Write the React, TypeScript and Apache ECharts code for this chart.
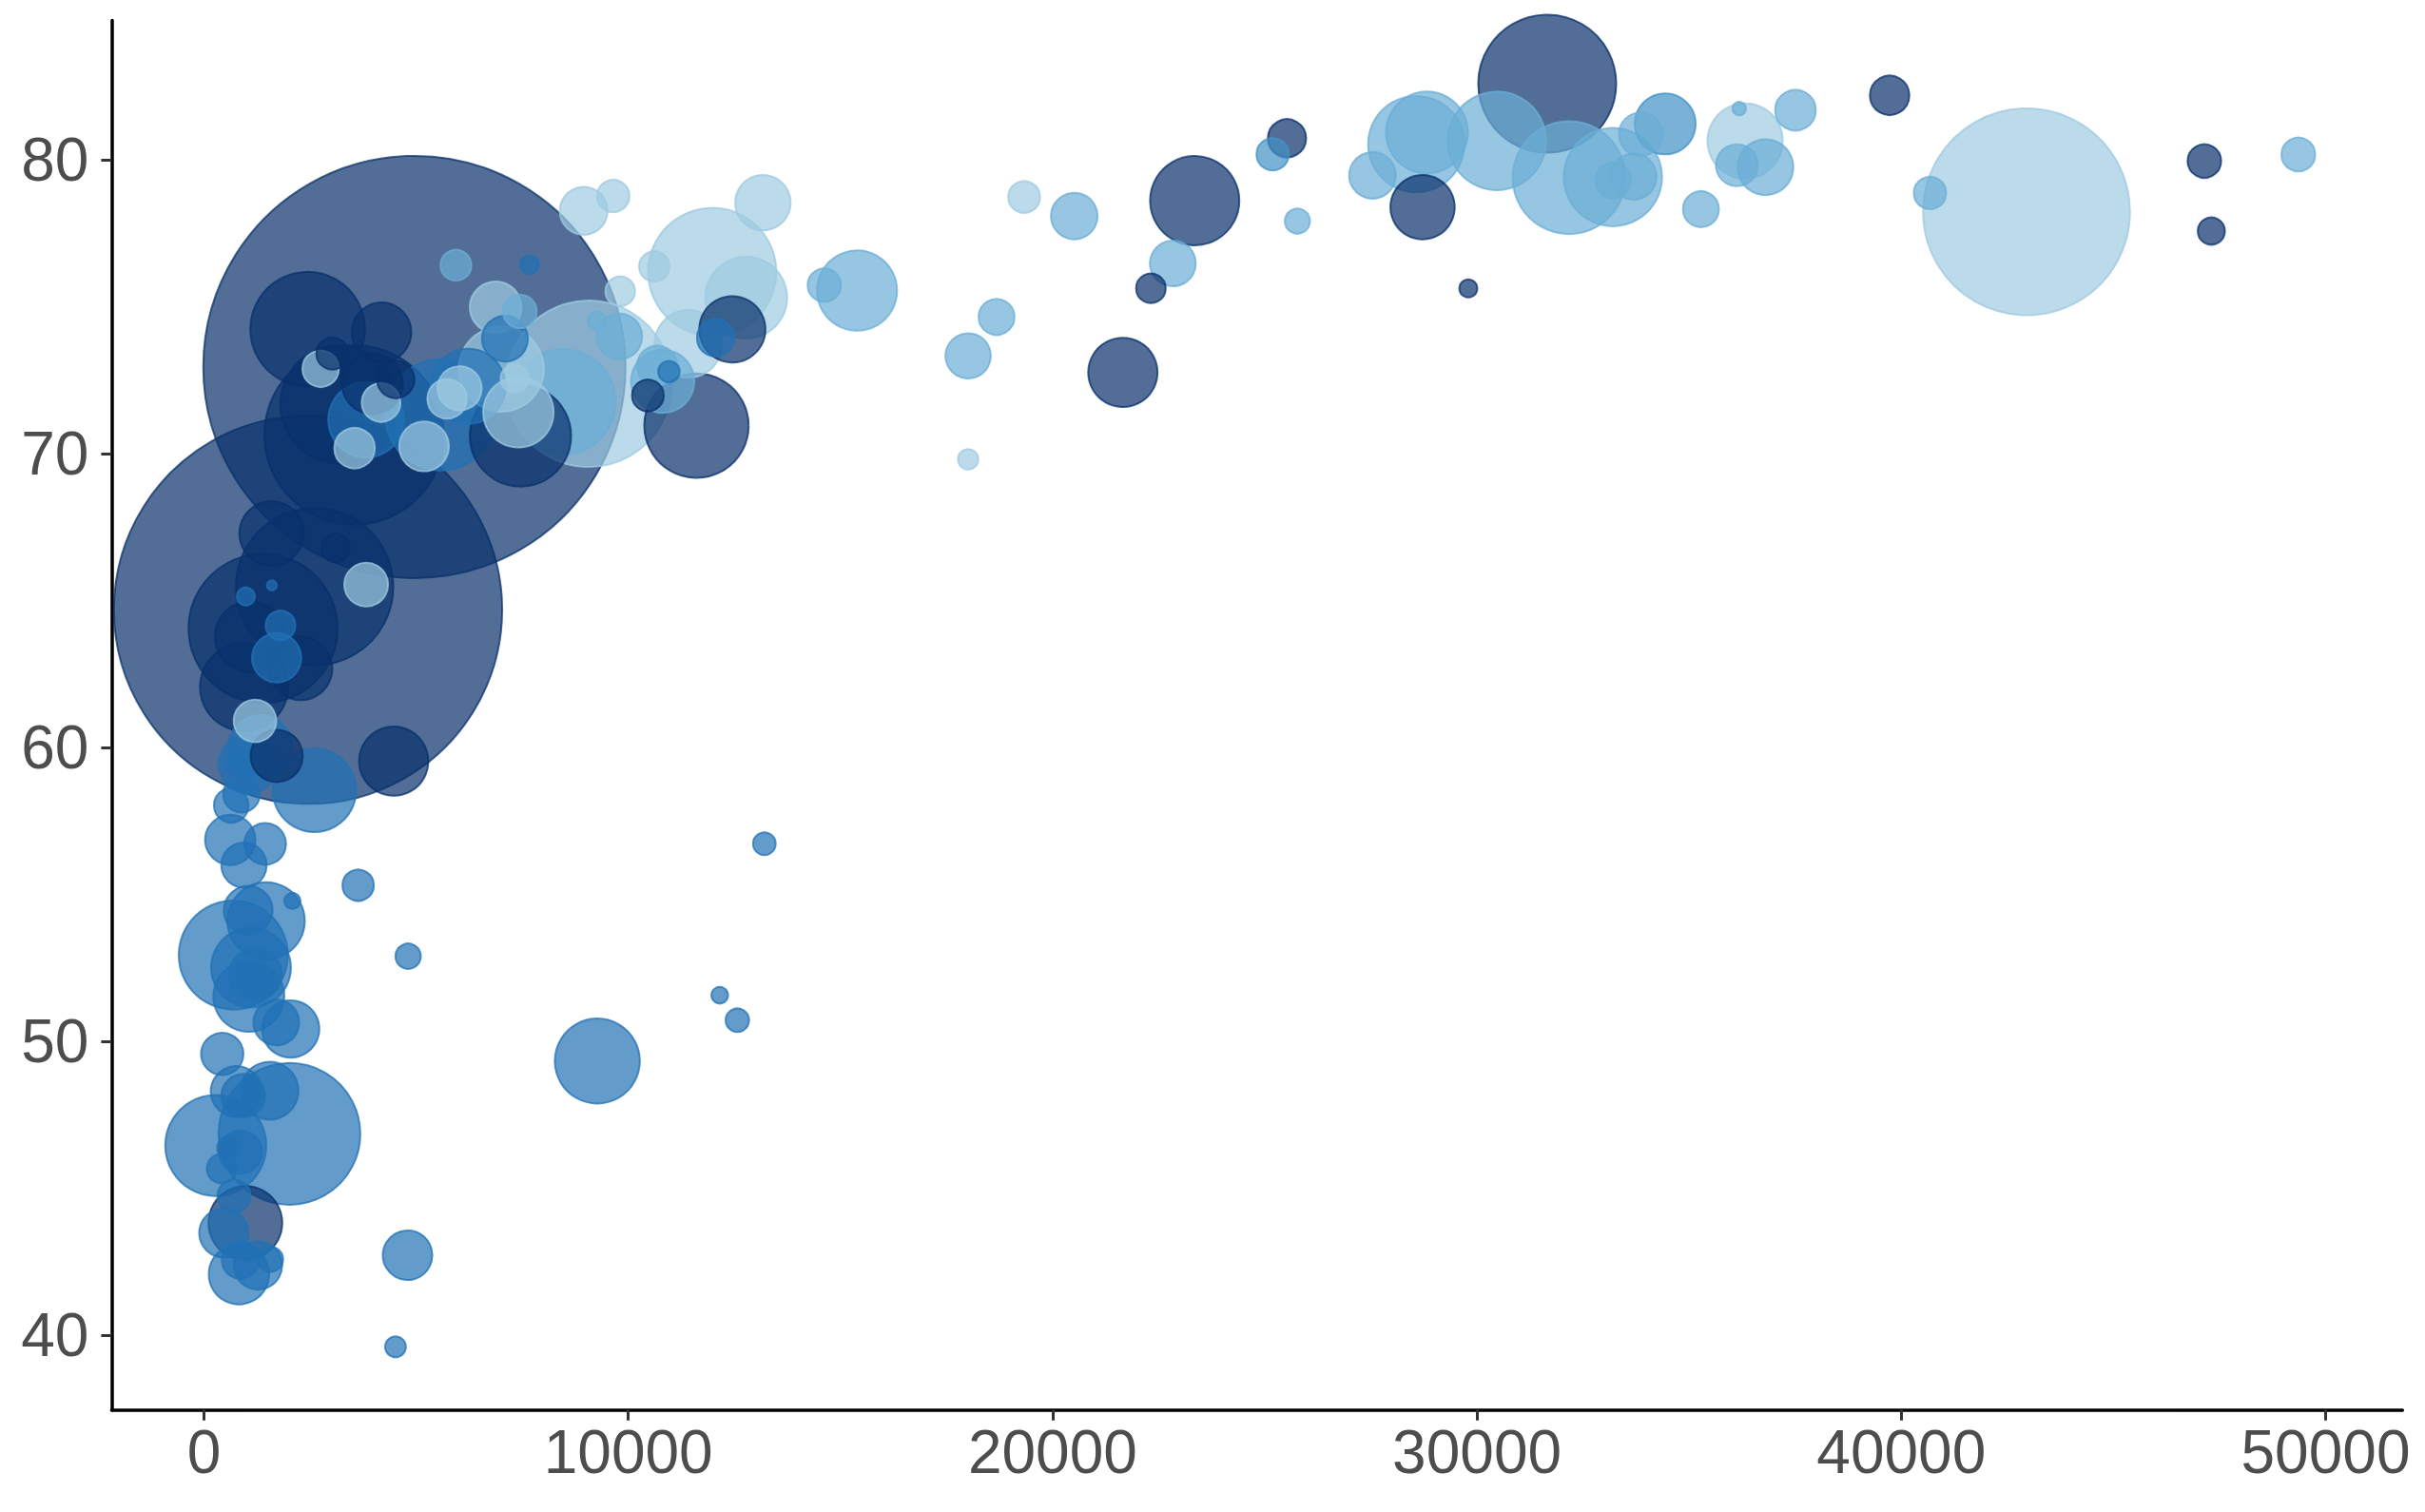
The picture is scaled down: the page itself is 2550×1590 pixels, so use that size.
import React, { useEffect, useRef } from "react";
import * as echarts from "echarts";

const countries = ["Afghanistan","Albania","Algeria","Angola","Argentina","Australia","Austria","Bahrain","Bangladesh","Belgium","Benin","Bolivia","Bosnia and Herzegovina","Botswana","Brazil","Bulgaria","Burkina Faso","Burundi","Cambodia","Cameroon","Canada","Central African Republic","Chad","Chile","China","Colombia","Comoros","Congo, Dem. Rep.","Congo, Rep.","Costa Rica","Cote d'Ivoire","Croatia","Cuba","Czech Republic","Denmark","Djibouti","Dominican Republic","Ecuador","Egypt","El Salvador","Equatorial Guinea","Eritrea","Ethiopia","Finland","France","Gabon","Gambia","Germany","Ghana","Greece","Guatemala","Guinea","Guinea-Bissau","Haiti","Honduras","Hong Kong, China","Hungary","Iceland","India","Indonesia","Iran","Iraq","Ireland","Israel","Italy","Jamaica","Japan","Jordan","Kenya","Korea, Dem. Rep.","Korea, Rep.","Kuwait","Lebanon","Lesotho","Liberia","Libya","Madagascar","Malawi","Malaysia","Mali","Mauritania","Mauritius","Mexico","Mongolia","Montenegro","Morocco","Mozambique","Myanmar","Namibia","Nepal","Netherlands","New Zealand","Nicaragua","Niger","Nigeria","Norway","Oman","Pakistan","Panama","Paraguay","Peru","Philippines","Poland","Portugal","Puerto Rico","Reunion","Romania","Rwanda","Sao Tome and Principe","Saudi Arabia","Senegal","Serbia","Sierra Leone","Singapore","Slovak Republic","Slovenia","Somalia","South Africa","Spain","Sri Lanka","Sudan","Swaziland","Sweden","Switzerland","Syria","Taiwan","Tanzania","Thailand","Togo","Trinidad and Tobago","Tunisia","Turkey","Uganda","United Kingdom","United States","Uruguay","Venezuela","Vietnam","West Bank and Gaza","Yemen, Rep.","Zambia","Zimbabwe"];

const continents = ["Asia","Europe","Africa","Africa","Americas","Oceania","Europe","Asia","Asia","Europe","Africa","Americas","Europe","Africa","Americas","Europe","Africa","Africa","Asia","Africa","Americas","Africa","Africa","Americas","Asia","Americas","Africa","Africa","Africa","Americas","Africa","Europe","Americas","Europe","Europe","Africa","Americas","Americas","Africa","Americas","Africa","Africa","Africa","Europe","Europe","Africa","Africa","Europe","Africa","Europe","Americas","Africa","Africa","Americas","Americas","Asia","Europe","Europe","Asia","Asia","Asia","Asia","Europe","Asia","Europe","Americas","Asia","Asia","Africa","Asia","Asia","Asia","Asia","Africa","Africa","Africa","Africa","Africa","Asia","Africa","Africa","Africa","Americas","Asia","Europe","Africa","Africa","Asia","Africa","Asia","Europe","Oceania","Americas","Africa","Africa","Europe","Asia","Asia","Americas","Americas","Americas","Asia","Europe","Europe","Americas","Africa","Europe","Africa","Africa","Asia","Africa","Europe","Africa","Asia","Europe","Europe","Africa","Africa","Europe","Asia","Africa","Africa","Europe","Europe","Asia","Asia","Africa","Asia","Africa","Americas","Africa","Europe","Africa","Europe","Americas","Americas","Americas","Asia","Asia","Asia","Africa","Africa"];

const lifeExp = [43.828,76.423,72.301,42.731,75.32,81.235,79.829,75.635,64.062,79.441,56.728,65.554,74.852,50.728,72.39,73.005,52.295,49.58,59.723,50.43,80.653,44.741,50.651,78.553,72.961,72.889,65.152,46.462,55.322,78.782,48.328,75.748,78.273,76.486,78.332,54.791,72.235,74.994,71.338,71.878,51.579,58.04,52.947,79.313,80.657,56.735,59.448,79.406,60.022,79.483,70.259,56.007,46.388,60.916,70.198,82.208,73.338,81.757,64.698,70.65,70.964,59.545,78.885,80.745,80.546,72.567,82.603,72.535,54.11,67.297,78.623,77.588,71.993,42.592,45.678,73.952,59.443,48.303,74.241,54.467,64.164,72.801,76.195,66.803,74.543,71.164,42.082,62.069,52.906,63.785,79.762,80.204,72.899,56.867,46.859,80.196,75.64,65.483,75.537,71.752,71.421,71.688,75.563,78.098,78.746,76.442,72.476,46.242,65.528,72.777,63.062,74.002,42.568,79.972,74.663,77.926,48.159,49.339,80.941,72.396,58.556,39.613,80.884,81.701,74.143,78.4,52.517,70.616,58.42,69.819,73.923,71.777,51.542,79.425,78.242,76.384,73.747,74.249,73.422,62.698,42.384,43.487];

const gdpPercap = [974.58,5937.03,6223.37,4797.23,12779.38,34435.37,36126.49,29796.05,1391.25,33692.61,1441.28,3822.14,7446.3,12569.85,9065.8,10680.79,1217.03,430.07,1713.78,2042.1,36319.24,706.02,1704.06,13171.64,4959.11,7006.58,986.15,277.55,3632.56,9645.06,1544.75,14619.22,8948.1,22833.31,35278.42,2082.48,6025.37,6873.26,5581.18,5728.35,12154.09,641.37,690.81,33207.08,30470.02,13206.48,752.75,32170.37,1327.61,27538.41,5186.05,942.65,579.23,1201.64,3548.33,39724.98,18008.94,36180.79,2452.21,3540.65,11605.71,4471.06,40676.0,25523.28,28569.72,7320.88,31656.07,4519.46,1463.25,1593.07,23348.14,47306.99,10461.06,1569.33,414.51,12057.5,1044.77,759.35,12451.66,1042.58,1803.15,10956.99,11977.57,3095.77,9253.9,3820.18,823.69,944.0,4811.06,1091.36,36797.93,25185.01,2749.32,619.68,2013.98,49357.19,22316.19,2605.95,9809.19,4172.84,7408.91,3190.48,15389.92,20509.65,19328.71,7670.12,10808.48,863.09,1598.44,21654.83,1712.47,9786.53,862.54,47143.18,18678.31,25768.26,926.14,9269.66,28821.06,3970.1,2602.39,4513.48,33859.75,37506.42,4184.55,28718.28,1107.48,7458.4,882.97,18008.51,7092.92,8458.28,1056.38,33203.26,42951.65,10611.46,11415.81,2441.58,3025.35,2280.77,1271.21,469.71];

const pop = [31889923,3600523,33333216,12420476,40301927,20434176,8199783,708573,150448339,10392226,8078314,9119152,4552198,1639131,190010647,7322858,14326203,8390505,14131858,17696293,33390141,4369038,10238807,16284741,1318683096,44227550,710960,64606759,3800610,4133884,18013409,4493312,11416987,10228744,5468120,496374,9319622,13755680,80264543,6939688,551201,4906585,76511887,5238460,61083916,1454867,1688359,82400996,22873338,10706290,12572928,9947814,1472041,8502814,7483763,6980412,9956108,301931,1110396331,223547000,69453570,27499638,4109086,6426679,58147733,2780132,127467972,6053193,35610177,23301725,49044790,2505559,3921278,2012649,3193942,6036914,19167654,13327079,24821286,12031795,3270065,1250882,108700891,2874127,684736,33757175,19951656,47761980,2055080,28901790,16570613,4115771,5675356,12894865,135031164,4627926,3204897,169270617,3242173,6667147,28674757,91077287,38518241,10642836,3942491,798094,22276056,8860588,199579,27601038,12267493,10150265,6144562,4553009,5447502,2009245,9118773,43997828,40448191,20378239,42292929,1133066,9031088,7554661,19314747,23174294,38139640,65068149,5701579,1056608,10276158,71158647,29170398,60776238,301139947,3447496,26084662,85262356,4018332,22211743,11746035,12311143];

const continentNames = ["Africa", "Americas", "Asia", "Europe", "Oceania"];
const continentRGB = ["33,113,181", "158,202,225", "8,48,107", "107,174,214", "66,146,198"];

const xTicks = [0, 10000, 20000, 30000, 40000, 50000];
const yTicks = [40, 50, 60, 70, 80];

export default function App() {
  const ref = useRef<HTMLDivElement>(null);
  useEffect(() => {
    if (!ref.current) return;
    const chart = echarts.init(ref.current, undefined, { renderer: "svg" });

    const gMin = Math.min(...gdpPercap), gMax = Math.max(...gdpPercap);
    const lMin = Math.min(...lifeExp), lMax = Math.max(...lifeExp);
    const pMin = Math.min(...pop), pMax = Math.max(...pop);
    const gPad = (gMax - gMin) * 0.05;
    const lPad = (lMax - lMin) * 0.05;
    const R0 = 5.7, R1 = 222.5;

    const order = countries.map((_, i) => i).sort((a, b) => pop[b] - pop[a]);
    const data = order.map((i) => {
      const ci = continentNames.indexOf(continents[i]);
      const rgb = continentRGB[ci];
      return {
        name: countries[i],
        value: [gdpPercap[i], lifeExp[i], pop[i]],
        itemStyle: {
          color: `rgba(${rgb},0.7)`,
          borderColor: `rgba(${rgb},0.75)`,
          borderWidth: 2,
          opacity: 1,
        },
      };
    });

    const axisText = {
      color: "#4d4d4d",
      fontSize: 64,
      fontFamily: "Liberation Sans, Arial, sans-serif",
      formatter: (v: number) => String(v),
    };

    chart.setOption({
      animation: false,
      backgroundColor: "#ffffff",
      grid: { left: 117.4, right: 23.7, top: 21.6, bottom: 107.3, containLabel: false },
      xAxis: {
        type: "value",
        min: gMin - gPad,
        max: gMax + gPad,
        splitLine: { show: false },
        axisLine: { show: true, onZero: false, lineStyle: { color: "#000000", width: 3.5 } },
        axisTick: { show: true, length: 11, lineStyle: { color: "#333333", width: 3 }, customValues: xTicks },
        axisLabel: { ...axisText, margin: 12, customValues: xTicks },
      },
      yAxis: {
        type: "value",
        min: lMin - lPad,
        max: lMax + lPad,
        splitLine: { show: false },
        axisLine: { show: true, onZero: false, lineStyle: { color: "#000000", width: 3.5 } },
        axisTick: { show: true, length: 11, lineStyle: { color: "#333333", width: 3 }, customValues: yTicks },
        axisLabel: { ...axisText, margin: 24, customValues: yTicks },
      },
      series: [
        {
          type: "scatter",
          silent: true,
          data,
          symbol: "circle",
          itemStyle: { opacity: 1 },
          symbolSize: (v: number[]) =>
            2 * (R0 + (R1 - R0) * Math.sqrt((v[2] - pMin) / (pMax - pMin))) - 1,
          emphasis: { disabled: true },
        },
      ],
    });
    return () => chart.dispose();
  }, []);

  return (
    <div
      ref={ref}
      style={{ position: "fixed", left: 0, top: 0, width: 2550, height: 1590, background: "#fff" }}
    />
  );
}
